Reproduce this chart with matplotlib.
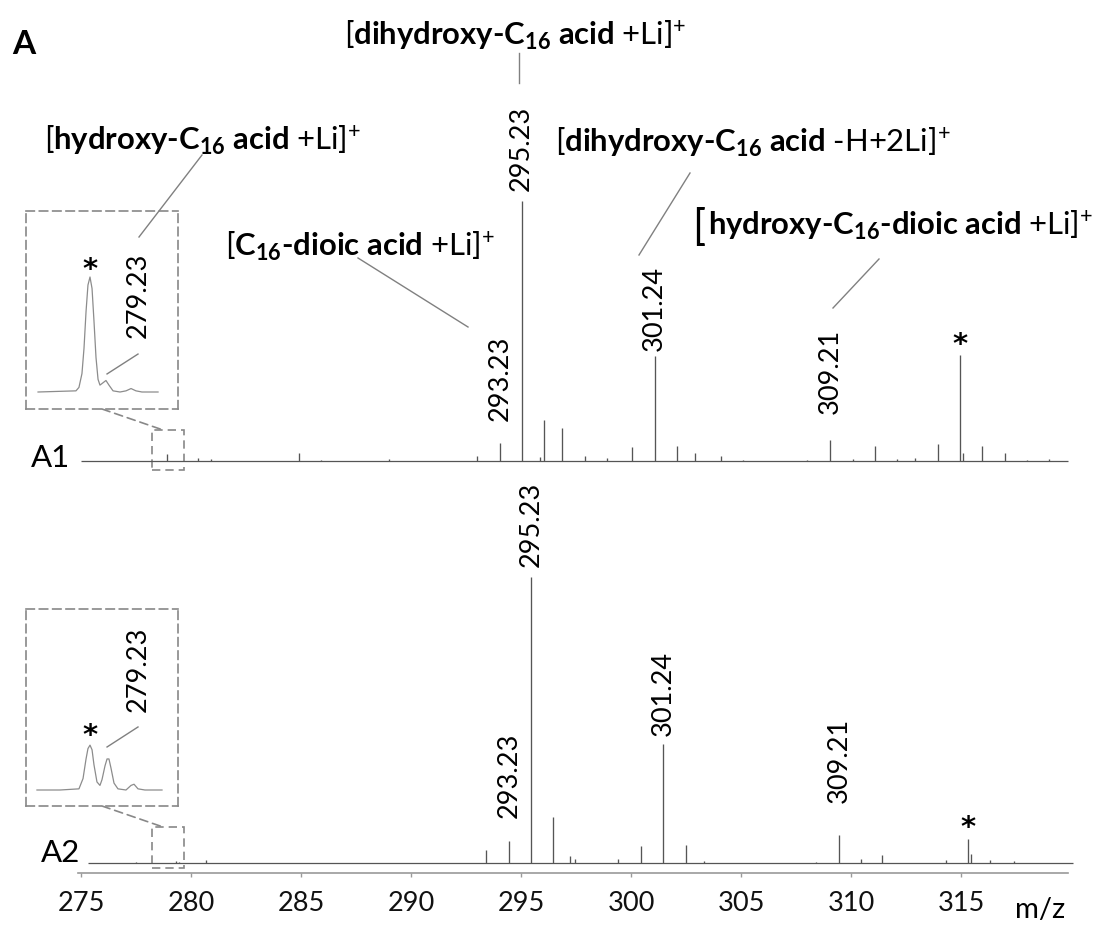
import matplotlib
matplotlib.use("Agg")
import matplotlib.pyplot as plt
from matplotlib.patches import Rectangle, ConnectionPatch
from matplotlib.lines import Line2D

plt.rcParams["font.family"] = ["Lato", "DejaVu Sans"]
plt.rcParams["mathtext.fontset"] = "custom"
plt.rcParams["mathtext.rm"] = "Lato"
plt.rcParams["mathtext.it"] = "Lato:italic"
plt.rcParams["mathtext.bf"] = "Lato:bold"

W, H = 1097, 925

# ---- spectrum A1: peak centre (m/z on the plotted axis) and relative intensity
A1_MZ = [278.90, 280.30, 280.90, 284.90, 285.90, 289.00, 293.00, 294.05, 295.03,
         295.86, 296.05, 296.85, 297.90, 298.90, 300.05, 301.08, 302.10, 302.90,
         304.10, 305.10, 308.00, 309.05, 310.10, 311.10, 312.10, 312.90, 313.95,
         314.95, 315.10, 315.95, 316.98, 318.00, 319.00]
A1_INT = [0.026, 0.013, 0.006, 0.029, 0.004, 0.006, 0.018, 0.068, 1.000,
          0.016, 0.156, 0.127, 0.018, 0.012, 0.052, 0.404, 0.058, 0.031,
          0.018, 0.005, 0.005, 0.079, 0.009, 0.058, 0.008, 0.012, 0.065,
          0.406, 0.030, 0.058, 0.031, 0.005, 0.009]
A1_RANGE = (275.0, 319.85)

# ---- spectrum A2
A2_MZ = [277.50, 279.30, 279.45, 280.70, 293.40, 294.45, 295.45, 296.45, 297.25,
         297.45, 299.40, 300.45, 301.47, 302.50, 303.30, 308.40, 309.45, 310.45,
         311.43, 314.30, 315.30, 315.45, 316.30, 317.40]
A2_INT = [0.003, 0.006, 0.004, 0.010, 0.047, 0.078, 1.000, 0.161, 0.023,
          0.015, 0.015, 0.058, 0.417, 0.062, 0.006, 0.005, 0.098, 0.015,
          0.029, 0.012, 0.084, 0.030, 0.010, 0.006]
A2_RANGE = (275.3, 320.1)

# labelled peaks (index into the lists above) and their text
PEAK_TEXT = ["293.23", "295.23", "301.24", "309.21"]
A1_LABELLED = [7, 8, 15, 21]
A2_LABELLED = [5, 6, 12, 16]
A1_STAR = 27
A2_STAR = 20

# ---- zoomed insets (m/z, intensity relative to the A1 inset base peak)
INSET_A1_MZ = [278.467, 278.783, 278.808, 278.833, 278.850, 278.867, 278.883,
               278.900, 278.917, 278.933, 278.950, 278.967, 278.983, 279.008,
               279.033, 279.058, 279.092, 279.150, 279.200, 279.242, 279.283,
               279.333, 279.467]
INSET_A1_INT = [0.0, 0.01, 0.04, 0.16, 0.38, 0.70, 0.93, 1.0, 0.90, 0.62,
                0.30, 0.11, 0.06, 0.08, 0.10, 0.06, 0.01, 0.0, 0.01, 0.03,
                0.01, 0.0, 0.0]
INSET_A2_MZ = [278.858, 279.050, 279.208, 279.242, 279.267, 279.283, 279.300,
               279.317, 279.333, 279.358, 279.383, 279.400, 279.425, 279.442,
               279.458, 279.475, 279.500, 279.533, 279.600, 279.642, 279.667,
               279.700, 279.758, 279.900]
INSET_A2_INT = [0.0, 0.0, 0.01, 0.10, 0.27, 0.36, 0.39, 0.35, 0.22, 0.07,
                0.04, 0.09, 0.21, 0.27, 0.27, 0.19, 0.06, 0.01, 0.0, 0.04,
                0.05, 0.01, 0.0, 0.0]
INSET_STAR = [278.90, 279.30]
INSET_TEXT = "279.23"

X_TICKS = [275, 280, 285, 290, 295, 300, 305, 310, 315]

# ---- styling
LINE = "#555555"
LEAD = "#808080"
DASH = "#888888"
STAR_FONT = dict(family="DejaVu Sans", fontweight="bold", fontsize=21)
PX = 286.0                      # pixels per unit of A2 intensity
A1_OFF = (863 - 461) / PX       # A1 baseline above A2 baseline
A1_SCALE = 260 / PX


def fx(x):
    return x / W


def fy(y):
    return 1 - y / H


fig = plt.figure(figsize=(W / 100, H / 100), dpi=100)
ax = fig.add_axes([fx(78), fy(873), (1068 - 78) / W, 873 / H])
ax.set_xlim(275 + (78 - 81) / 22, 275 + (1068 - 81) / 22)
ax.set_ylim(-10 / PX, 863 / PX)
for s in ["top", "left", "right"]:
    ax.spines[s].set_visible(False)
ax.spines["bottom"].set_color("#9a9a9a")
ax.spines["bottom"].set_linewidth(1.2)
ax.set_yticks([])
ax.set_xticks(X_TICKS)
ax.tick_params(axis="x", length=3, width=1, color="#9a9a9a", labelsize=19.5,
               pad=10, labelcolor="#111111")


def spectrum(mz, inten, base, scale, xr):
    ax.hlines(base, xr[0], xr[1], color=LINE, lw=0.9, clip_on=False)
    ax.vlines(mz, base, [base + scale * v for v in inten], color=LINE, lw=0.95,
              clip_on=False)


spectrum(A1_MZ, A1_INT, A1_OFF, A1_SCALE, A1_RANGE)
spectrum(A2_MZ, A2_INT, 0.0, 1.0, A2_RANGE)

# peak labels (gap above peak in px)
A1_GAPS = [22, 10, 5, 26]
A2_GAPS = [23, 10, 8, 32]
for idx, txt, gap in zip(A1_LABELLED, PEAK_TEXT, A1_GAPS):
    ax.annotate(txt, xy=(A1_MZ[idx], A1_OFF + A1_SCALE * A1_INT[idx]),
                xytext=(0, gap * 0.72), textcoords="offset points",
                rotation=90, ha="center", va="bottom", fontsize=19.5)
for idx, txt, gap in zip(A2_LABELLED, PEAK_TEXT, A2_GAPS):
    ax.annotate(txt, xy=(A2_MZ[idx], A2_INT[idx]),
                xytext=(0, gap * 0.72), textcoords="offset points",
                rotation=90, ha="center", va="bottom", fontsize=19.5)
ax.annotate("*", xy=(A1_MZ[A1_STAR], A1_OFF + A1_SCALE * A1_INT[A1_STAR]),
            xytext=(0, 2), textcoords="offset points", ha="center",
            va="baseline", **STAR_FONT)
ax.annotate("*", xy=(A2_MZ[A2_STAR], A2_INT[A2_STAR]),
            xytext=(0, 2), textcoords="offset points", ha="center",
            va="baseline", **STAR_FONT)

# small dashed boxes around the zoomed region
for base, lo, hi in [(A1_OFF, 9, 31), (0.0, 5, 36)]:
    ax.add_patch(Rectangle((278.23, base - lo / PX), 1.45, (lo + hi) / PX,
                           fill=False, ec=DASH, lw=1.2, ls=(0, (5, 3)),
                           clip_on=False))

# insets
INSET_BOX = [(26, 211, 409, 392), (26, 609, 806, 790)]
INSET_DATA = [(INSET_A1_MZ, INSET_A1_INT), (INSET_A2_MZ, INSET_A2_INT)]
BOX_TOPS = [A1_OFF + 31 / PX, 36 / PX]
STAR_Y = [0.99, 0.40]
LABEL_Y = [0.843, 1.052]
LEAD_Y = [(0.157, 0.33), (0.374, 0.548)]
for k in range(2):
    x0, top, bot, basepx = INSET_BOX[k]
    ins = fig.add_axes([fx(x0), fy(bot), 152 / W, (bot - top) / H])
    star = INSET_STAR[k]
    ins.set_xlim(star - 64 / 120, star + 88 / 120)
    ins.set_ylim(-(bot - basepx) / 115, (basepx - top) / 115)
    ins.set_xticks([])
    ins.set_yticks([])
    ins.patch.set_alpha(0)
    for s in ins.spines.values():
        s.set_color(DASH)
        s.set_linewidth(1.2)
        s.set_linestyle((0, (5, 3)))
    mz, it = INSET_DATA[k]
    ins.plot(mz, it, color="#8c8c8c", lw=0.9)
    ins.text(star, STAR_Y[k], "*", ha="center", va="baseline", **STAR_FONT)
    ins.text(star + 0.4, LABEL_Y[k], INSET_TEXT, rotation=90, ha="center",
             va="center", fontsize=19.5)
    ins.add_line(Line2D([star + 0.142, star + 0.4], list(LEAD_Y[k]),
                        color=LEAD, lw=1.0))
    con = ConnectionPatch(xyA=(0.5, 0), coordsA=ins.transAxes,
                          xyB=(278.73, BOX_TOPS[k]), coordsB=ax.transData,
                          color=DASH, lw=1.2, ls=(0, (5, 3)))
    fig.add_artist(con)

# compound labels
L1 = r"$\text{[}$dihydroxy-C$_{\mathbf{16}}$ acid $\text{+Li]}^{+}$"
L2 = r"$\text{[}$hydroxy-C$_{\mathbf{16}}$ acid $\text{+Li]}^{+}$"
L3 = r"$\text{[}$dihydroxy-C$_{\mathbf{16}}$ acid $\text{-H+2Li]}^{+}$"
L4 = r"$\text{[}$C$_{\mathbf{16}}$-dioic acid $\text{+Li]}^{+}$"
L5 = r"hydroxy-C$_{\mathbf{16}}$-dioic acid $\text{+Li]}^{+}$"
for (x, y), s in [((344, 45), L1), ((44, 150), L2), ((555, 152), L3),
                  ((225, 256), L4), ((708, 235), L5)]:
    fig.text(fx(x), fy(y), s, fontsize=22.3, fontweight="bold", ha="left",
             va="baseline")
fig.text(fx(692), fy(240), "[", fontsize=31, ha="left", va="baseline")

LEADERS = [((519, 53), (519, 83)), ((139, 237), (202, 155)),
           ((690, 173), (639, 255)), ((358, 258), (468, 327)),
           ((879, 259), (833, 308))]
for (a, b) in LEADERS:
    fig.add_artist(Line2D([fx(a[0]), fx(b[0])], [fy(a[1]), fy(b[1])],
                          transform=fig.transFigure, color=LEAD, lw=1.0))

fig.text(fx(12), fy(54), "A", fontsize=24, fontweight="bold", va="baseline")
fig.text(fx(31), fy(467), "A1", fontsize=22.5, va="baseline")
fig.text(fx(41), fy(862), "A2", fontsize=22.5, va="baseline")
fig.text(fx(1040), fy(918), "m/z", fontsize=21, ha="center", va="baseline")

fig.savefig("out.png", dpi=100)
